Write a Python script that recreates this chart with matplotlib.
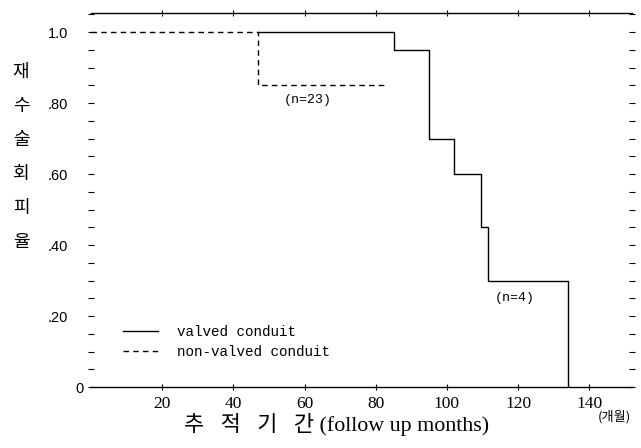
import numpy as np
import matplotlib
matplotlib.use("Agg")
import matplotlib.pyplot as plt
from matplotlib.ticker import MultipleLocator
import matplotlib.transforms as mtransforms

# valved conduit (solid step curve)
valved_t = [47, 85, 95, 102, 109.5, 111.5, 134]
valved_s = [1.0, 0.95, 0.70, 0.60, 0.45, 0.30, 0.0]
# non-valved conduit (dashed step curve)
nonvalved_t = [0, 47, 83]
nonvalved_s = [1.0, 0.85, 0.85]

x_ticks = [20, 40, 60, 80, 100, 120, 140]
y_ticks = [0, 0.2, 0.4, 0.6, 0.8, 1.0]
y_labels = ["0", ".20", ".40", ".60", ".80", "1.0"]
ylabel_chars = ["재", "수", "술", "회", "피", "율"]

fig = plt.figure(figsize=(6.41, 4.48), dpi=100)
ax = fig.add_axes([91 / 641, 1 - 387 / 448, 541 / 641, 374 / 448])

ax.step(valved_t, valved_s, where="post", color="black", lw=1.0,
        label="valved conduit")
ax.step(nonvalved_t, nonvalved_s, where="post", color="black", lw=1.0,
        linestyle=(0, (4, 3)), label="non-valved conduit")

ax.set_xlim(0, 152)
ax.set_ylim(0, 1.054)

for s in ["left", "right"]:
    ax.spines[s].set_visible(False)
for s in ["top", "bottom"]:
    ax.spines[s].set_linewidth(1.0)

ax.set_xticks(x_ticks)
ax.set_xticklabels([str(v) for v in x_ticks], family="Liberation Serif", fontsize=12.5)
ax.set_yticks(y_ticks)
ax.set_yticklabels(y_labels, family="Liberation Sans", fontsize=10.5)
ax.yaxis.set_minor_locator(MultipleLocator(0.05))
ax.tick_params(axis="x", which="major", direction="inout", length=5, width=0.8,
               top=True, pad=4)
ax.tick_params(axis="y", which="major", direction="inout", length=5, width=0.8,
               right=True, pad=14)
ax.tick_params(axis="y", which="minor", direction="inout", length=4, width=0.8,
               right=True)

# pull the "0" label close to the axis like the original
for lab in ax.get_yticklabels():
    if lab.get_text() == "0":
        lab.set_transform(lab.get_transform() +
                          mtransforms.ScaledTranslation(16 / 100, 0, fig.dpi_scale_trans))

# stacked Korean y-label
ys = 72
for ch in ylabel_chars:
    fig.text(21 / 641, 1 - ys / 448, ch, family="Noto Sans CJK KR", fontsize=13,
             ha="center", va="center")
    ys += 34

fig.text(337 / 641, 1 - 424 / 448, "추   적   기   간 (follow up months)",
         family=["Liberation Serif", "Noto Sans CJK KR"], fontsize=15.8,
         ha="center", va="center")
fig.text(614 / 641, 1 - 417 / 448, "(개월)", family="Noto Sans CJK KR",
         fontsize=9.5, ha="center", va="center")

ax.text(61, 0.808, "(n=23)", family="Liberation Mono", fontsize=9.5,
        ha="center", va="center")
ax.text(119, 0.25, "(n=4)", family="Liberation Mono", fontsize=9.5,
        ha="center", va="center")

ax.legend(loc="lower left", bbox_to_anchor=(0.046, 0.056), frameon=False,
          handlelength=2.45, handletextpad=1.3, labelspacing=0.42, borderpad=0,
          prop={"family": "Liberation Mono", "size": 10.3})

fig.savefig("out.png", dpi=100)
